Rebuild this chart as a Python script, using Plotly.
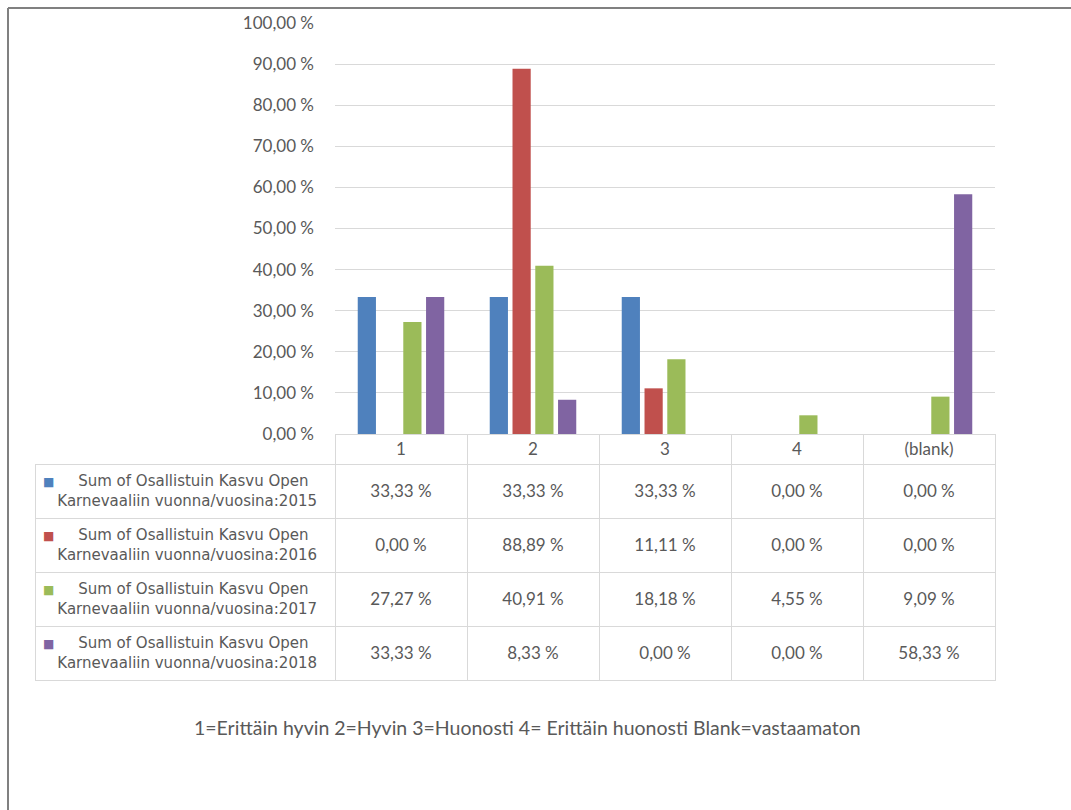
import plotly.graph_objects as go

categories = ["1", "2", "3", "4", "(blank)"]
series_names = [
    "Sum of Osallistuin Kasvu Open Karnevaaliin vuonna/vuosina:2015",
    "Sum of Osallistuin Kasvu Open Karnevaaliin vuonna/vuosina:2016",
    "Sum of Osallistuin Kasvu Open Karnevaaliin vuonna/vuosina:2017",
    "Sum of Osallistuin Kasvu Open Karnevaaliin vuonna/vuosina:2018",
]
v2015 = [33.33, 33.33, 33.33, 0.00, 0.00]
v2016 = [0.00, 88.89, 11.11, 0.00, 0.00]
v2017 = [27.27, 40.91, 18.18, 4.55, 9.09]
v2018 = [33.33, 8.33, 0.00, 0.00, 58.33]
colors = ["#4F81BD", "#C0504D", "#9BBB59", "#8064A2"]
caption = "1=Erittäin hyvin 2=Hyvin 3=Huonosti 4= Erittäin huonosti Blank=vastaamaton"

series = [v2015, v2016, v2017, v2018]
W, H = 1071, 810
FONT = "Lato"
LFONT = "DejaVu Sans"
TXT = "#595959"
GRID = "#D9D9D9"
CLEAR = "rgba(0,0,0,0)"
NB = "\u00a0"

fig = go.Figure()
for name, vals, col in zip(series_names, series, colors):
    fig.add_trace(go.Bar(x=categories, y=vals, name=name, marker_color=col,
                         marker_line_width=0, showlegend=False))

def fmt(v):
    return f"{v:.2f} %".replace(".", ",")

label_cells = []
for name, col in zip(series_names, colors):
    first, second = name.split(" Karnevaaliin")
    label_cells.append(f"<span style='color:{col};font-size:12px'>■</span>{NB * 5}{first}"
                       f"<br>{NB * 3}Karnevaaliin{second}")

n = len(categories)
m = len(series)
# grid and header
fig.add_trace(go.Table(
    domain=dict(x=[35 / W, 995 / W], y=[1 - 700 / H, 1 - 434 / H]),
    columnwidth=[300] + [132] * n,
    header=dict(values=[""] + categories, height=30,
                line=dict(color=[CLEAR] + [GRID] * n, width=1),
                fill=dict(color=[CLEAR] + ["white"] * n), align="center",
                font=dict(family=FONT, size=17, color=TXT)),
    cells=dict(values=[[""] * m] * (n + 1), height=54,
               line=dict(color=GRID, width=1), fill_color="white",
               font=dict(family=FONT, size=17, color=TXT)),
))
# series labels
fig.add_trace(go.Table(
    domain=dict(x=[35 / W, 335 / W], y=[1 - 720 / H, 1 - 434 / H]),
    columnwidth=[300],
    header=dict(values=[""], height=30, line=dict(color=CLEAR, width=0),
                fill=dict(color=CLEAR)),
    cells=dict(values=[label_cells], height=54,
               line=dict(color=CLEAR, width=0), fill=dict(color=CLEAR),
               align="left", font=dict(family=LFONT, size=15, color=TXT)),
))
# numeric values (vertically centred in the rows)
fig.add_trace(go.Table(
    domain=dict(x=[335 / W, 995 / W], y=[1 - 720 / H, 1 - 434 / H]),
    columnwidth=[132] * n,
    header=dict(values=[""] * n, height=42, line=dict(color=CLEAR, width=0),
                fill=dict(color=CLEAR)),
    cells=dict(values=[[fmt(s[i]) for s in series] for i in range(n)], height=54,
               line=dict(color=CLEAR, width=0), fill=dict(color=CLEAR),
               align="center", font=dict(family=FONT, size=17, color=TXT)),
))

fig.update_layout(
    width=W, height=H,
    margin=dict(l=0, r=0, t=0, b=0, autoexpand=False),
    paper_bgcolor="white", plot_bgcolor="white",
    separators=", ",
    barmode="group", bargap=0.31, bargroupgap=0.2,
    font=dict(family=FONT, size=17, color=TXT),
    xaxis=dict(domain=[335 / W, 995 / W], showticklabels=False, ticks="",
               showgrid=False, zeroline=False, showline=False, automargin=False),
    yaxis=dict(domain=[1 - 434 / H, 1 - 23 / H], range=[0, 100], dtick=10,
               tickformat=".2f", ticksuffix=" %", showgrid=True, gridcolor=GRID,
               gridwidth=1, zeroline=False, showline=False, ticks="", automargin=False,
               ticklabelstandoff=20, tickfont=dict(family=FONT, size=17, color=TXT)),
    annotations=[dict(text=caption, x=527 / W, y=1 - 727 / H, xref="paper", yref="paper",
                      xanchor="center", yanchor="middle",
                      showarrow=False, font=dict(family=FONT, size=19.5, color=TXT))],
    shapes=[
        dict(type="line", xref="paper", yref="paper", x0=8 / W, x1=1, y0=1 - 8 / H, y1=1 - 8 / H,
             line=dict(color="#808080", width=2)),
        dict(type="line", xref="paper", yref="paper", x0=8 / W, x1=8 / W, y0=1 - 8 / H, y1=0,
             line=dict(color="#808080", width=2)),
    ],
)

fig.write_html("out.html")
